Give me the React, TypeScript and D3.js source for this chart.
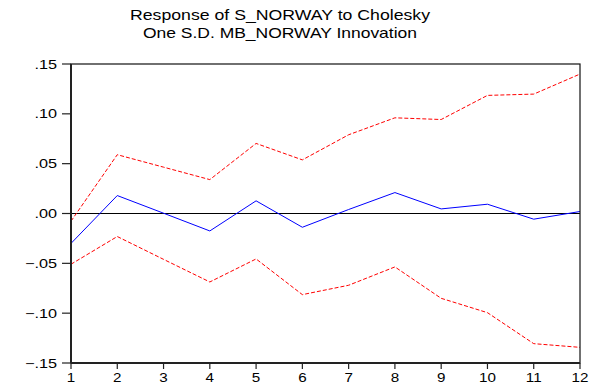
import React from "react";
import * as d3 from "d3";

// Impulse response horizon (periods)
const steps = [1, 2, 3, 4, 5, 6, 7, 8, 9, 10, 11, 12];
// Response of S_NORWAY to a one S.D. MB_NORWAY shock
const response = [-0.030, 0.018, 0.0003, -0.0175, 0.0127, -0.0138, 0.004, 0.021, 0.0046, 0.0093, -0.0057, 0.002];
// +/- 2 S.E. bands
const upperBand = [-0.0077, 0.059, 0.0465, 0.034, 0.0703, 0.0538, 0.079, 0.096, 0.0943, 0.1185, 0.1198, 0.1399];
const lowerBand = [-0.0509, -0.0231, -0.046, -0.0687, -0.0456, -0.0814, -0.072, -0.0536, -0.0851, -0.0995, -0.1306, -0.1343];
const yTicks = [-0.15, -0.10, -0.05, 0.0, 0.05, 0.10, 0.15];
const titleLines = ["Response of S_NORWAY to Cholesky", "One S.D. MB_NORWAY Innovation"];

const W = 608;
const H = 387;
const left = 71;
const right = 580;
const top = 64;
const bottom = 363;
const font = "'Liberation Sans', Arial, sans-serif";
const stretch = 1.3;

const fmt = (v: number) => {
  const s = d3.format(".2f")(Math.abs(v) < 1e-9 ? 0 : v);
  return s.replace("0.", ".");
};

export default function App() {
  const x = d3.scaleLinear().domain([1, 12]).range([left, right]);
  const y = d3.scaleLinear().domain([-0.15, 0.15]).range([bottom, top]);
  const line = d3
    .line<number>()
    .x((_, i) => x(steps[i]))
    .y((d) => y(d));

  return (
    <svg
      width={W}
      height={H}
      style={{ position: "absolute", left: 0, top: 0, background: "#fff" }}
      fontFamily={font}
    >
      <text x={280} y={20} textAnchor="middle" fontSize={14.5} textLength={300} lengthAdjust="spacingAndGlyphs">
        {titleLines[0]}
      </text>
      <text x={280} y={38} textAnchor="middle" fontSize={14.5} textLength={274} lengthAdjust="spacingAndGlyphs">
        {titleLines[1]}
      </text>

      {/* zero line */}
      <line x1={left} x2={right} y1={y(0)} y2={y(0)} stroke="#000" strokeWidth={1} />

      <path d={line(upperBand) || ""} fill="none" stroke="#ff0000" strokeWidth={1} strokeDasharray="4,2" />
      <path d={line(lowerBand) || ""} fill="none" stroke="#ff0000" strokeWidth={1} strokeDasharray="4,2" />
      <path d={line(response) || ""} fill="none" stroke="#0000ff" strokeWidth={1} />

      {/* frame */}
      <rect x={left} y={top} width={right - left} height={bottom - top} fill="none" stroke="#111" strokeWidth={1.2} />
      <line x1={left} x2={left} y1={top} y2={bottom} stroke="#222" strokeWidth={2} />
      <line x1={left} x2={right} y1={bottom} y2={bottom} stroke="#222" strokeWidth={2} />

      {yTicks.map((t) => (
        <g key={t}>
          <line x1={left - 9} x2={left} y1={y(t)} y2={y(t)} stroke="#222" strokeWidth={1.2} />
          <text
            transform={`translate(57,${y(t) + 4.5}) scale(${stretch},1)`}
            textAnchor="end"
            fontSize={12.5}
          >
            {fmt(t)}
          </text>
        </g>
      ))}

      {steps.map((s) => (
        <g key={s}>
          <line x1={x(s)} x2={x(s)} y1={bottom} y2={bottom + 6} stroke="#222" strokeWidth={1.2} />
          <text
            transform={`translate(${x(s)},${bottom + 19}) scale(${stretch * 0.9},1)`}
            textAnchor="middle"
            fontSize={13}
          >
            {s}
          </text>
        </g>
      ))}
    </svg>
  );
}
